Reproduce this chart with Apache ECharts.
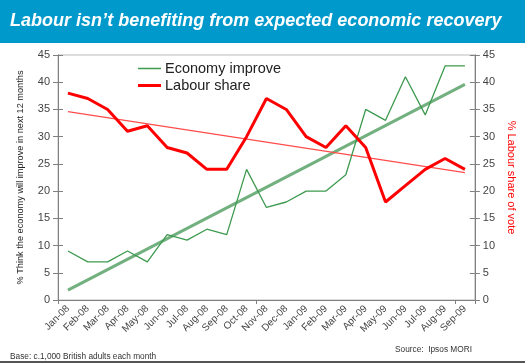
<!DOCTYPE html>
<html>
<head>
<meta charset="utf-8">
<script src="https://cdn.jsdelivr.net/npm/echarts@6/dist/echarts.min.js"></script>
<style>html,body{margin:0;padding:0;background:#fff}#c{width:525px;height:364px}</style>
</head>
<body>
<div id="c"></div>
<script>
var categories = ['Jan-08','Feb-08','Mar-08','Apr-08','May-08','Jun-08','Jul-08','Aug-08','Sep-08','Oct-08','Nov-08','Dec-08','Jan-09','Feb-09','Mar-09','Apr-09','May-09','Jun-09','Jul-09','Aug-09','Sep-09'];
var economyImprove = [9,7,7,9,7,12,11,13,12,24,17,18,20,20,23,35,33,41,34,43,43];
var labourShare = [38,37,35,31,32,28,27,24,24,30,37,35,30,28,32,28,18,21,24,26,24];
var economyTrend = [['Jan-08',1.8],['Sep-09',39.6]];
var labourTrend = [['Jan-08',34.6],['Sep-09',23.4]];
var yTicks = [0,5,10,15,20,25,30,35,40,45];

var chart = echarts.init(document.getElementById('c'), null, {renderer:'canvas'});
var font = 'Liberation Sans, Arial, sans-serif';
function yAx(pos, showLabel, inside, name){
  return {
    type:'value', position:pos, min:yTicks[0], max:yTicks[yTicks.length-1], interval:5,
    name: name || '', nameLocation:'middle',
    axisLine:{show:true, lineStyle:{color:'#808080', width:1}},
    axisTick:{show:true, inside:inside, length:5, lineStyle:{color:'#808080'}},
    axisLabel:{show:showLabel, color:'#444', fontSize:11, fontFamily:font, margin:8},
    splitLine:{show:false}
  };
}
var yl = yAx('left', true, false, '% Think the economy will improve in next 12 months');
yl.nameGap = 33; yl.nameTextStyle = {color:'#222', fontSize:9.2, fontFamily:font};
var yr = yAx('right', true, false, '% Labour share of vote');
yr.nameGap = 23; yr.nameRotate = -90; yr.nameTextStyle = {color:'#ff0000', fontSize:11, fontFamily:font};
var yl2 = yAx('left', false, true); var yr2 = yAx('right', false, true);

chart.setOption({
  animation:false,
  backgroundColor:'#fff',
  grid:{left:58, right:41, top:55, bottom:64, show:true, borderColor:'#bbb', borderWidth:1},
  graphic:[
    {type:'rect', shape:{x:0,y:0,width:525,height:43}, style:{fill:'#0099cc'}, z:0},
    {type:'text', left:10, top:12, style:{text:'Labour isn\u2019t benefiting from expected economic recovery', fill:'#fff', font:'italic bold 18px Liberation Sans, Arial, sans-serif'}},
    {type:'text', left:10, top:353, style:{text:'Base: c.1,000 British adults each month', fill:'#333', font:'8.3px Liberation Sans, Arial, sans-serif'}},
    {type:'text', left:395, top:346, style:{text:'Source:  Ipsos MORI', fill:'#333', font:'8.3px Liberation Sans, Arial, sans-serif'}},
    {type:'rect', shape:{x:0,y:361,width:525,height:2}, style:{fill:'#555'}}
  ],
  legend:[
    {data:['Economy improve'], left:133, top:56, icon:'rect', itemWidth:23, itemHeight:1.5, itemGap:4,
     textStyle:{fontSize:14.5, color:'#222', fontFamily:font, padding:[0,0,0,-1]}},
    {data:['Labour share'], left:133, top:73, icon:'rect', itemWidth:23, itemHeight:3, itemGap:4,
     textStyle:{fontSize:14.5, color:'#222', fontFamily:font, padding:[0,0,0,-1]}}
  ],
  xAxis:{type:'category', data:categories, boundaryGap:true,
    axisLine:{lineStyle:{color:'#808080'}},
    axisTick:{show:true, interval:9, length:4, lineStyle:{color:'#808080'}},
    axisLabel:{rotate:45, interval:0, fontSize:10, color:'#444', fontFamily:font, margin:7},
    splitLine:{show:false}},
  yAxis:[yl, yr, yl2, yr2],
  series:[
    {name:'Economy trend', type:'line', yAxisIndex:0, data:economyTrend, showSymbol:false, silent:true,
     lineStyle:{color:'#72b07f', width:3}, z:2},
    {name:'Labour trend', type:'line', yAxisIndex:1, data:labourTrend, showSymbol:false, silent:true,
     lineStyle:{color:'#ff4c4c', width:1.3}, z:2},
    {name:'Economy improve', type:'line', yAxisIndex:0, data:economyImprove, showSymbol:false,
     itemStyle:{color:'#3d9a4f'}, lineStyle:{color:'#3d9a4f', width:1.3}, z:3},
    {name:'Labour share', type:'line', yAxisIndex:1, data:labourShare, showSymbol:false,
     itemStyle:{color:'#ff0000'}, lineStyle:{color:'#ff0000', width:3}, z:4}
  ]
});
</script>
</body>
</html>
